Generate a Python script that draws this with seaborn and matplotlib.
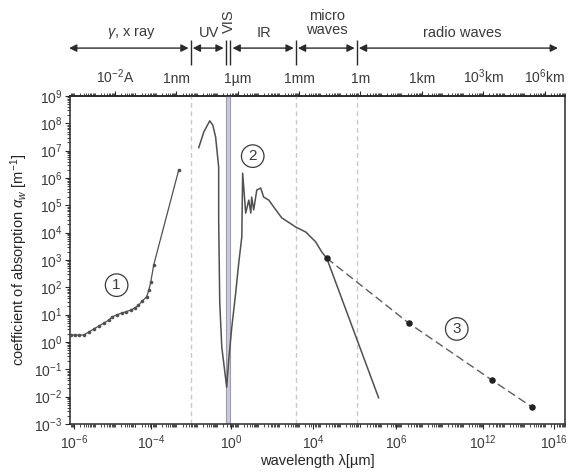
"""Absorption coefficient of water across the electromagnetic spectrum."""

import matplotlib

matplotlib.use("Agg")

import matplotlib.pyplot as plt
import matplotlib.ticker as mticker
import matplotlib.transforms as mtransforms
import numpy as np
import seaborn as sns

# ---- data (wavelength in um, absorption coefficient in 1/m) ----
# (1) gamma / x-ray branch
xray_wl = [6.8e-9, 1.07e-8, 1.7e-8, 3.0e-8, 5.1e-8, 9.1e-8, 1.6e-7, 2.8e-7, 4.9e-7,
           6.9e-7, 1.2e-6, 2.1e-6, 3.3e-6, 5.9e-6, 9.1e-6, 1.4e-5, 2.2e-5, 3.5e-5,
           4.5e-5, 5.6e-5, 7.8e-5, 1.3e-3]
xray_abs = [1.8, 1.8, 1.8, 1.8, 2.3, 3.0, 3.8, 4.9, 6.3, 8.1, 9.8, 11.5, 12.6, 14.8,
            17.4, 22, 32, 45, 79, 155, 660, 1.95e6]

# (2) UV - VIS - IR branch
optic_wl = [1.23e-2, 2.19e-2, 4.27e-2, 6.0e-2, 8.3e-2, 9.3e-2, 0.117, 0.117, 0.132,
            0.166, 0.288, 0.363, 0.513, 0.794, 1.12, 1.58, 1.74, 2.45, 3.47, 4.37,
            4.79, 6.03, 8.51, 13.2, 18.6, 33.1, 57.5, 141, 692, 2140, 6460, 12900,
            22400]
optic_abs = [1.26e7, 4.8e7, 1.23e8, 8.7e7, 3.16e7, 1.35e7, 2.5e6, 2.9e4, 27, 0.66,
             0.022, 0.22, 3.5, 62, 776, 6.9e3, 1.5e6, 5.2e4, 1.55e5, 5.2e4, 2.0e5,
             6.8e4, 3.6e5, 4.3e5, 2.0e5, 1.55e5, 8.7e4, 3.5e4, 1.6e4, 1.05e4, 4.6e3,
             1.95e3, 1.17e3]

# steep far-IR / microwave drop
drop_wl = [22400, 7.8e6]
drop_abs = [1.17e3, 8.9e-3]

# (3) radio branch (dashed)
radio_wl = [22400, 2.3e8, 2.6e12, 2.4e14]
radio_abs = [1.17e3, 4.9, 0.041, 4.2e-3]

# spectral band borders (um) and band names
band_edges = [5.0e-3, 0.26, 0.44, 692, 6.6e5]
band_names = ["$\\gamma$, x ray", "UV", "VIS", "IR", "micro\nwaves", "radio waves"]
band_label_x = [6.6e-6, 3.8e-2, 0.36, 18.6, 2.2e4, 1.0e11]
arrow_limits = [4.5e-9, 5.7e15]

# tick labels
bottom_tick_pos = [1.0e-8, 5.6e-5, 0.46, 4.7e3, 5.4e7, 1.0e12, 2.8e15]
bottom_tick_labels = ["$10^{-6}$", "$10^{-4}$", "$10^{0}$", "$10^{4}$", "$10^{6}$",
                      "$10^{12}$", "$10^{16}$"]
top_tick_pos = [1e-6, 1e-3, 1e0, 1e3, 1e6, 1e9, 1e12, 1e15]
top_tick_labels = ["$10^{-2}$A", "1nm", "1µm", "1mm", "1m", "1km", "$10^{3}$km",
                   "$10^{6}$km"]
y_ticks = [10.0 ** k for k in range(-3, 10)]

# circled labels
marker_text = ["1", "2", "3"]
marker_wl = [1.2e-6, 5.4, 5.1e10]
marker_abs = [120, 6.3e6, 3.0]

INK = "#3a3a3a"
LINE = "#505050"


def log_minor_positions(lo_exp, hi_exp, subs):
    """Minor tick positions for a log axis, one set per decade."""
    return [m * 10.0 ** k for k in range(lo_exp, hi_exp) for m in subs]


sns.set_theme(style="ticks")
plt.rcParams["font.family"] = ["Liberation Sans", "DejaVu Sans"]
plt.rcParams["mathtext.fontset"] = "custom"
plt.rcParams["mathtext.rm"] = "Liberation Sans"
plt.rcParams["mathtext.it"] = "Liberation Sans:italic"
plt.rcParams["text.color"] = INK
plt.rcParams["axes.edgecolor"] = "#2a2a2a"
plt.rcParams["xtick.color"] = "#2a2a2a"
plt.rcParams["ytick.color"] = "#2a2a2a"
plt.rcParams["xtick.labelcolor"] = INK
plt.rcParams["ytick.labelcolor"] = INK

fig = plt.figure(figsize=(5.71, 4.74), dpi=100)
ax = fig.add_axes([0.1226, 0.1055, 0.8669, 0.692])
ax.set_xscale("log")
ax.set_yscale("log")
ax.set_xlim(10 ** -8.2, 10 ** 16.0)
ax.set_ylim(1e-3, 1e9)

# band borders and visible window
for edge in (band_edges[0], band_edges[3], band_edges[4]):
    ax.axvline(edge, color="#c8cad2", lw=1.0, ls=(0, (3.5, 2.5)), zorder=1)
ax.axvspan(band_edges[1], band_edges[2], facecolor="#c9cbd8", edgecolor="#9a9db0",
           lw=0.8, zorder=1)

# curves
sns.lineplot(x=xray_wl, y=xray_abs, ax=ax, color=LINE, lw=0.9, sort=False,
             estimator=None, marker="o", markersize=2.6, markeredgewidth=0, zorder=3)
sns.lineplot(x=optic_wl, y=optic_abs, ax=ax, color=LINE, lw=1.1, sort=False,
             estimator=None, zorder=3)
sns.lineplot(x=drop_wl, y=drop_abs, ax=ax, color=LINE, lw=1.1, sort=False,
             estimator=None, zorder=3)
sns.lineplot(x=radio_wl, y=radio_abs, ax=ax, color="#5e5e5e", lw=1.0, sort=False,
             estimator=None, zorder=3)
ax.lines[-1].set_linestyle((0, (6, 3)))
sns.scatterplot(x=radio_wl, y=radio_abs, ax=ax, color="#222222", s=22,
                linewidth=0, zorder=4)

for txt, mx, my in zip(marker_text, marker_wl, marker_abs):
    ax.text(mx, my, txt, ha="center", va="center", fontsize=11, color=INK,
            bbox=dict(boxstyle="circle,pad=0.28", fc="white", ec=INK, lw=0.9),
            zorder=5)

# bottom axis
ax.xaxis.set_major_locator(mticker.FixedLocator(bottom_tick_pos))
ax.xaxis.set_major_formatter(mticker.FixedFormatter(bottom_tick_labels))
ax.xaxis.set_minor_locator(mticker.FixedLocator(log_minor_positions(-9, 17, range(1, 10))))
ax.xaxis.set_minor_formatter(mticker.NullFormatter())
ax.tick_params(axis="x", which="major", length=3.5, width=0.8, labelsize=10, pad=3)
ax.tick_params(axis="x", which="minor", length=2.2, width=0.6)

# left axis
ax.yaxis.set_major_locator(mticker.FixedLocator(y_ticks))
ax.yaxis.set_major_formatter(mticker.LogFormatterMathtext())
ax.yaxis.set_minor_locator(mticker.FixedLocator(log_minor_positions(-3, 9, range(2, 10))))
ax.yaxis.set_minor_formatter(mticker.NullFormatter())
ax.tick_params(axis="y", which="major", length=3.5, width=0.8, labelsize=10, pad=2)
ax.tick_params(axis="y", which="minor", length=2.2, width=0.6)

for side in ("left", "right", "top", "bottom"):
    ax.spines[side].set_linewidth(1.1)
    ax.spines[side].set_visible(True)

# top axis
top = ax.secondary_xaxis("top")
top.set_xscale("log")
top.xaxis.set_major_locator(mticker.FixedLocator(top_tick_pos))
top.xaxis.set_major_formatter(mticker.FixedFormatter(top_tick_labels))
top.xaxis.set_minor_locator(mticker.FixedLocator(log_minor_positions(-9, 17, range(1, 10))))
top.xaxis.set_minor_formatter(mticker.NullFormatter())
top.tick_params(axis="x", which="major", length=3.5, width=0.8, labelsize=10, pad=4)
top.tick_params(axis="x", which="minor", length=2.2, width=0.6)

ax.set_ylabel("coefficient of absorption $\\alpha_w$ [m$^{-1}$]", fontsize=10.5,
              labelpad=3)
ax.set_xlabel("wavelength λ[µm]", fontsize=10.5, labelpad=2)

# spectral band arrows above the plot
trans = mtransforms.blended_transform_factory(ax.transData, ax.transAxes)
arrow_y = 1.146
stops = [arrow_limits[0]] + band_edges + [arrow_limits[1]]
spans = [(stops[0], stops[1]), (stops[1], stops[2]), (stops[3], stops[4]),
         (stops[4], stops[5]), (stops[5], stops[6])]
for x1, x2 in spans:
    ax.annotate("", xy=(x2, arrow_y), xytext=(x1, arrow_y), xycoords=trans,
                textcoords=trans, annotation_clip=False,
                arrowprops=dict(arrowstyle="<|-|>", color="#2a2a2a", lw=1.0,
                                mutation_scale=11, shrinkA=1.5, shrinkB=1.5))
ax.vlines(band_edges, 1.095, 1.171, transform=trans, colors="#2a2a2a", lw=1.0,
          clip_on=False)

for name, lx in zip(band_names, band_label_x):
    if name == "VIS":
        ax.text(lx, 1.228, name, transform=trans, rotation=90, ha="center",
                va="center", fontsize=10.5)
    elif "\n" in name:
        ax.text(lx, 1.222, name, transform=trans, ha="center", va="center",
                fontsize=10.5, linespacing=0.95)
    else:
        ax.text(lx, 1.192, name, transform=trans, ha="center", va="center",
                fontsize=10.5)

fig.savefig("out.png", dpi=100)
